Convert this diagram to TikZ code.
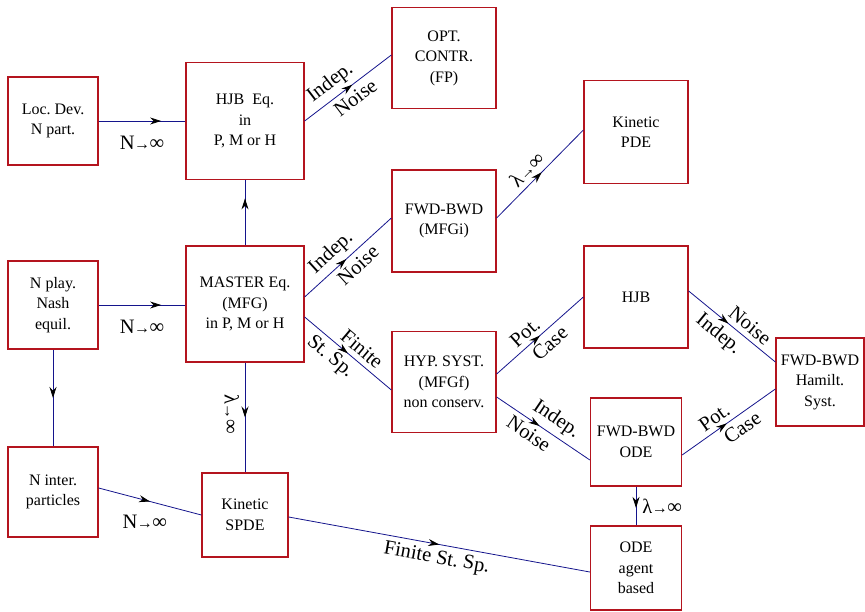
\documentclass[tikz,border=0pt]{standalone}
\usepackage{fontspec}
\setmainfont{Liberation Serif}
\usetikzlibrary{arrows.meta,decorations.markings}
\definecolor{boxred}{RGB}{180,20,30}
\definecolor{linkblue}{RGB}{20,20,140}
\frenchspacing
\newcommand{\mytoarrow}{\kern-0.5pt{\fontsize{16}{16}\selectfont→}\kern-0.5pt}
\begin{document}
\begin{tikzpicture}[x=1pt,y=-1pt,
  box/.style={draw=boxred, line width=1.3pt, align=center, inner sep=0pt,
    font=\fontsize{16}{20.5}\selectfont},
  link/.style={draw=linkblue, line width=0.8pt},
  midarr/.style={postaction={decorate,decoration={markings,
    mark=at position #1 with {\arrow[black]{Stealth[length=11pt,width=7pt]}}}}},
  lab/.style={font=\fontsize{20.5}{22}\selectfont, text=black, inner sep=4pt},
  slab/.style={lab, sloped, inner sep=5pt}]
\useasboundingbox (0,0) rectangle (865,612);

% boxes
\node[box, minimum width=90pt, minimum height=88pt] (loc) at (53,121) {Loc.\ Dev.\\N part.};
\node[box, minimum width=118pt, minimum height=117pt] (hjbeq) at (245,121) {HJB~ Eq.\\in\\P, M or H};
\node[box, minimum width=104pt, minimum height=101pt] (opt) at (444,58) {OPT.\\CONTR.\\(FP)};
\node[box, minimum width=104pt, minimum height=103pt] (kpde) at (636,132) {Kinetic\\PDE};
\node[box, minimum width=104pt, minimum height=102pt] (mfgi) at (444,221) {FWD-BWD\\(MFGi)};
\node[box, minimum width=90pt, minimum height=88pt] (nplay) at (53,305) {N play.\\Nash\\equil.};
\node[box, minimum width=118pt, minimum height=116pt] (master) at (245,304) {MASTER Eq.\\(MFG)\\in P, M or H};
\node[box, minimum width=104pt, minimum height=102pt] (hjb) at (636,297) {HJB};
\node[box, minimum width=104pt, minimum height=101pt] (hyp) at (444,382) {HYP. SYST.\\(MFGf)\\non conserv.};
\node[box, minimum width=88pt, minimum height=88pt] (ham) at (820,382) {FWD-BWD\\Hamilt.\\Syst.};
\node[box, minimum width=91pt, minimum height=88pt] (fbode) at (636,442) {FWD-BWD\\ODE};
\node[box, minimum width=90pt, minimum height=90pt] (ninter) at (53,492) {N inter.\\particles};
\node[box, minimum width=86pt, minimum height=84pt] (spde) at (245,515) {Kinetic\\SPDE};
\node[box, minimum width=91pt, minimum height=84pt] (agent) at (636,568) {ODE\\agent\\based};

% connectors
\draw[link,midarr=0.72] (loc.east) -- node[lab,pos=0.5,yshift=-22pt]{N\mytoarrow∞} (hjbeq.west);
\draw[link,midarr=0.72] (nplay.east) -- node[lab,pos=0.5,yshift=-22pt]{N\mytoarrow∞} (master.west|-nplay.east);
\draw[link,midarr=0.55] (hjbeq.east) --
  node[slab,above,pos=0.4]{Indep.} node[slab,below,pos=0.5]{Noise} ([yshift=3pt]opt.west);
\draw[link,midarr=0.72] (master.north) -- (hjbeq.south);
\draw[link,midarr=0.48] ([yshift=7pt]master.east) --
  node[slab,above,pos=0.42]{Indep.} node[slab,below,pos=0.52]{Noise} ([yshift=3pt]mfgi.west);
\draw[link,midarr=0.5] ([yshift=-13pt]master.east) --
  node[slab,above,pos=0.57]{Finite} node[slab,below,pos=0.4]{St.\ Sp.} ([yshift=-8pt]hyp.west);
\draw[link,midarr=0.52] ([yshift=3pt]mfgi.east) --
  node[slab,above,pos=0.45]{λ\mytoarrow∞} ([yshift=2pt]kpde.west);
\draw[link,midarr=0.5] ([yshift=8pt]hyp.east) --
  node[slab,above,pos=0.42]{Pot.} node[slab,below,pos=0.52]{Case} (hjb.west);
\draw[link,midarr=0.46] ([yshift=-15pt]hyp.east) --
  node[slab,above,pos=0.55]{Indep.} node[slab,below,pos=0.42]{Noise} ([yshift=-18pt]fbode.west);
\draw[link,midarr=0.46] ([yshift=6pt]hjb.east) --
  node[slab,above,pos=0.62]{Noise} node[slab,below,pos=0.45]{Indep.} ([yshift=20pt]ham.west);
\draw[link,midarr=0.48] ([yshift=-13pt]fbode.east) --
  node[slab,above,pos=0.42]{Pot.} node[slab,below,pos=0.57]{Case} ([yshift=-7pt]ham.west);
\draw[link,midarr=0.55] (fbode.south) -- node[lab,right=2pt,pos=0.5]{λ\mytoarrow∞} (agent.north);
\draw[link,midarr=0.5] (nplay.south) -- (ninter.north);
\draw[link,midarr=0.5] (master.south) -- node[lab,pos=0.47,anchor=north,rotate=-90,outer sep=2pt]{λ\mytoarrow∞} (spde.north);
\draw[link,midarr=0.5] ([yshift=4pt]ninter.east) -- node[lab,pos=0.45,yshift=-22pt]{N\mytoarrow∞} (spde.west);
\draw[link,midarr=0.5] ([yshift=-2pt]spde.east) --
  node[slab,below,pos=0.5]{Finite St.\ Sp.} ([yshift=-4pt]agent.west);
\end{tikzpicture}
\end{document}
